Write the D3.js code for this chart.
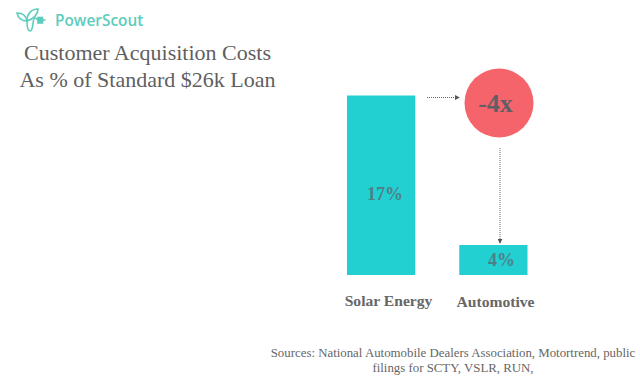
<!DOCTYPE html>
<html>
<head>
<meta charset="utf-8">
<script src="https://cdn.jsdelivr.net/npm/d3@7"></script>
<style>
  html, body { margin: 0; padding: 0; background: #fff; }
  svg { display: block; }
  text { font-family: "Liberation Serif", serif; }
</style>
</head>
<body>
<svg id="chart" width="640" height="384"></svg>
<script>
const categories = ["Solar Energy", "Automotive"];
const values = [17, 4];
const valueLabels = ["17%", "4%"];
const titleLines = ["Customer Acquisition Costs", "As % of Standard $26k Loan"];
const sourceLines = ["Sources: National Automobile Dealers Association, Motortrend, public", "filings for SCTY, VSLR, RUN,"];
const multipleLabel = "-4x";

const svg = d3.select("#chart");

// the original bars are not drawn from zero, baseline sits a bit above it
const y = d3.scaleLinear().domain([1.39, 17]).range([275, 95.5]);
const x = d3.scaleBand().domain(categories).range([347, 527.5]).paddingInner(0.392);

svg.selectAll("rect.bar")
  .data(categories)
  .enter()
  .append("rect")
  .attr("class", "bar")
  .attr("x", d => x(d))
  .attr("y", (d, i) => y(values[i]))
  .attr("width", x.bandwidth())
  .attr("height", (d, i) => y.range()[0] - y(values[i]))
  .attr("fill", "#22d0d2");

// value labels
const labelPos = [[385, 200], [501.5, 266]];
svg.selectAll("text.value")
  .data(valueLabels)
  .enter()
  .append("text")
  .attr("class", "value")
  .attr("x", (d, i) => labelPos[i][0])
  .attr("y", (d, i) => labelPos[i][1])
  .attr("text-anchor", "middle")
  .attr("font-size", 18)
  .attr("font-weight", "bold")
  .attr("fill", "#4f7f88")
  .text(d => d);

// category labels
const categoryPos = [[388.5, 306], [495.5, 307]];
svg.selectAll("text.category")
  .data(categories)
  .enter()
  .append("text")
  .attr("class", "category")
  .attr("x", (d, i) => categoryPos[i][0])
  .attr("y", (d, i) => categoryPos[i][1])
  .attr("text-anchor", "middle")
  .attr("font-size", 15.6)
  .attr("font-weight", "bold")
  .attr("fill", "#666")
  .text(d => d);

// circle callout
svg.append("circle")
  .attr("cx", 499)
  .attr("cy", 103)
  .attr("r", 34.5)
  .attr("fill", "#f6646b");

svg.append("text")
  .attr("x", 495.5)
  .attr("y", 112)
  .attr("text-anchor", "middle")
  .attr("font-size", 26)
  .attr("font-weight", "bold")
  .attr("fill", "#5f5f66")
  .text(multipleLabel);

// dotted arrows
const defs = svg.append("defs");
defs.append("marker")
  .attr("id", "arrow")
  .attr("viewBox", "0 0 6 6")
  .attr("refX", 5)
  .attr("refY", 3)
  .attr("markerWidth", 5)
  .attr("markerHeight", 5)
  .attr("markerUnits", "userSpaceOnUse")
  .attr("orient", "auto")
  .append("path")
  .attr("d", "M0,0L6,3L0,6Z")
  .attr("fill", "#555");

const arrows = [[427, 97.5, 459, 97.5], [500, 148, 500, 243]];
svg.selectAll("line.arrow")
  .data(arrows)
  .enter()
  .append("line")
  .attr("class", "arrow")
  .attr("x1", d => d[0])
  .attr("y1", d => d[1])
  .attr("x2", d => d[2])
  .attr("y2", d => d[3])
  .attr("stroke", "#666")
  .attr("stroke-width", 1)
  .attr("stroke-dasharray", "1 1")
  .attr("marker-end", "url(#arrow)");

// title
svg.selectAll("text.title")
  .data(titleLines)
  .enter()
  .append("text")
  .attr("class", "title")
  .attr("x", 147.5)
  .attr("y", (d, i) => 60 + i * 27)
  .attr("text-anchor", "middle")
  .attr("font-size", 22)
  .attr("fill", "#5f5f5f")
  .text(d => d);

// sources
svg.selectAll("text.source")
  .data(sourceLines)
  .enter()
  .append("text")
  .attr("class", "source")
  .attr("x", 453)
  .attr("y", (d, i) => 357 + i * 14.5)
  .attr("text-anchor", "middle")
  .attr("font-size", 12.85)
  .attr("fill", "#666")
  .text(d => d);

// logo
const logo = svg.append("g")
  .attr("fill", "none")
  .attr("stroke", "#5ccdbd")
  .attr("stroke-width", 1.6)
  .attr("stroke-linecap", "round");
logo.append("path").attr("d", "M27,21C27,14 31,9 38,9C38,14 34,19 27,21");
logo.append("path").attr("d", "M27,21C22,21 18,18 17,13C22,13 26,15 27,21");
logo.append("path").attr("d", "M27,21C27,25 27,31 30,31C34,31 32,18 35,18C37,18 37,20 38,20");
logo.append("rect").attr("x", 38).attr("y", 17.5).attr("width", 4.5).attr("height", 5.5).attr("fill", "#5ccdbd");
logo.append("path").attr("d", "M42.5,20L45,20");

svg.append("text")
  .attr("x", 55)
  .attr("y", 25.5)
  .attr("font-size", 15.4)
  .attr("font-weight", 600)
  .style("font-family", "'Open Sans', sans-serif")
  .attr("fill", "#5ccdbd")
  .text("PowerScout");
</script>
</body>
</html>
